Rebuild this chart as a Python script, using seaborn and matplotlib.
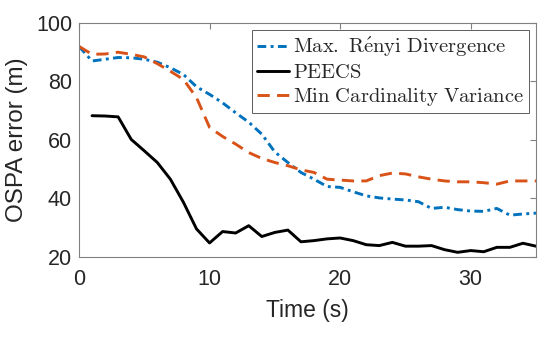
import matplotlib
matplotlib.use("Agg")
import matplotlib.pyplot as plt
import seaborn as sns
import numpy as np
import pandas as pd

time_renyi = list(range(0, 36))
renyi = [92.0, 87.0, 87.6, 88.2, 88.1, 87.6, 86.6, 84.7, 82.4, 78.2, 75.6, 72.7,
         69.3, 66.1, 62.0, 55.9, 52.3, 48.9, 46.6, 44.1, 43.8, 42.3, 40.9, 40.2,
         39.8, 39.5, 38.9, 36.6, 37.0, 36.2, 35.7, 35.6, 36.6, 34.3, 34.7, 35.0]

time_peecs = list(range(1, 36))
peecs = [68.3, 68.2, 67.9, 60.2, 56.3, 52.3, 46.6, 38.7, 29.6, 24.8, 28.7, 28.2,
         30.7, 27.0, 28.4, 29.2, 25.2, 25.6, 26.2, 26.5, 25.6, 24.2, 23.9, 25.0,
         23.7, 23.7, 23.9, 22.5, 21.6, 22.2, 21.8, 23.3, 23.3, 24.7, 23.7]

time_card = list(range(0, 36))
card = [92.0, 89.3, 89.4, 90.0, 89.3, 88.4, 86.1, 83.5, 80.7, 74.5, 64.3, 61.2,
        58.6, 55.7, 53.7, 52.3, 51.2, 49.8, 48.9, 46.6, 46.3, 46.0, 46.0, 47.8,
        48.7, 48.4, 47.4, 46.6, 46.0, 45.7, 45.7, 45.4, 44.9, 46.0, 46.0, 46.0]

labels = [r"$\mathrm{Max.\ R\acute{e}nyi\ Divergence}$",
          r"$\mathrm{PEECS}$",
          r"$\mathrm{Min\ Cardinality\ Variance}$"]
xticks = [0, 10, 20, 30]
yticks = [20, 40, 60, 80, 100]

sns.set_style("white")
plt.rcParams['font.family'] = ['Liberation Sans', 'DejaVu Sans']
plt.rcParams['mathtext.fontset'] = 'cm'

fig = plt.figure(figsize=(5.5, 3.37), dpi=100)
ax = fig.add_axes([0.1436, 0.2374, 0.8309, 0.6944])

df_r = pd.DataFrame({"t": time_renyi, "v": renyi})
df_p = pd.DataFrame({"t": time_peecs, "v": peecs})
df_c = pd.DataFrame({"t": time_card, "v": card})

sns.lineplot(data=df_r, x="t", y="v", ax=ax, color="#0072BD", lw=2.1,
             linestyle=(0, (3, 1.5, 1, 1.5)), label=labels[0])
sns.lineplot(data=df_p, x="t", y="v", ax=ax, color="black", lw=2.1,
             linestyle="-", label=labels[1])
sns.lineplot(data=df_c, x="t", y="v", ax=ax, color="#D95319", lw=2.1,
             linestyle=(0, (4.2, 2.5)), label=labels[2])

ax.set_xlim(0, 35)
ax.set_ylim(20, 100)
ax.set_xticks(xticks)
ax.set_yticks(yticks)
ax.tick_params(direction="in", length=4, width=0.8, color="#808080",
               labelsize=15.5, top=True, right=True, labelcolor="#262626")
ax.tick_params(axis="x", pad=9)
ax.tick_params(axis="y", pad=5)
for s in ax.spines.values():
    s.set_color("#808080")
    s.set_linewidth(0.8)
ax.set_xlabel("Time (s)", fontsize=16.5, color="#262626", labelpad=6)
ax.set_ylabel("OSPA error (m)", fontsize=17.5, color="#262626", labelpad=6)

leg = ax.legend(loc="upper right", prop={"size": 14.8},
                frameon=True, fancybox=False, borderpad=0.25, labelspacing=0.2,
                handlelength=1.55, handletextpad=0.2, borderaxespad=0.35)
leg.get_frame().set_edgecolor("#333333")
leg.get_frame().set_linewidth(0.7)

fig.savefig("out.png", dpi=100)
